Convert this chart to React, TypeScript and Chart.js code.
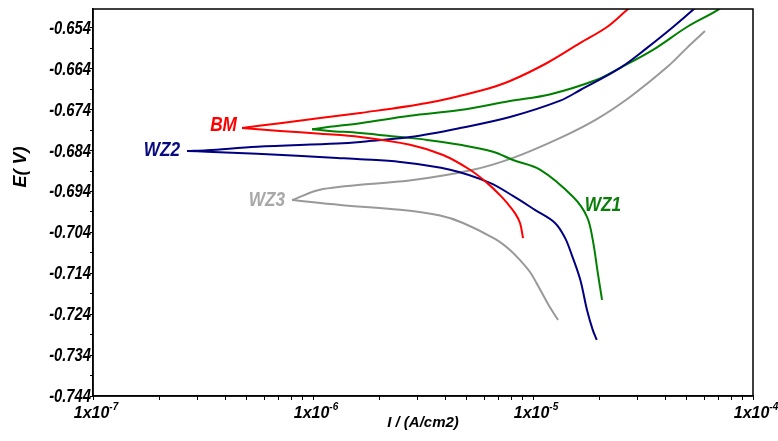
import React, { useEffect, useRef } from "react";
import { Chart, registerables } from "chart.js";

Chart.register(...registerables);

// ---- Data (current density A/cm2, potential V) ----
const bmCurrent = [9.01e-6, 8.73e-6, 8.28e-6, 7.62e-6, 7.08e-6, 6.18e-6, 5.17e-6, 3.9e-6, 2.76e-6, 1.64e-6, 1.08e-6, 7.08e-7, 4.76e-7, 7.08e-7, 1.64e-6, 3.3e-6, 5.93e-6, 7.86e-6, 1.158e-5, 1.64e-5, 2.17e-5, 2.68e-5, 2.97e-5];
const bmPotential = [-0.7054, -0.7017, -0.6993, -0.6968, -0.6949, -0.6919, -0.6887, -0.6851, -0.6826, -0.6807, -0.6799, -0.6792, -0.6785, -0.6773, -0.6748, -0.6724, -0.6692, -0.667, -0.6626, -0.6577, -0.6538, -0.6496, -0.6477];

const wz2Current = [1.95e-5, 1.87e-5, 1.76e-5, 1.64e-5, 1.5e-5, 1.4e-5, 1.259e-5, 1.02e-5, 8.11e-6, 6.37e-6, 4.2e-6, 2.49e-6, 1.64e-6, 1.29e-6, 5.57e-7, 3.3e-7, 2.68e-7, 3.3e-7, 5.57e-7, 1.29e-6, 1.64e-6, 2.76e-6, 4.66e-6, 7.86e-6, 1.33e-5, 1.64e-5, 2.49e-5, 3.3e-5, 4.33e-5, 5.34e-5, 5.74e-5];
const wz2Potential = [-0.7303, -0.7279, -0.723, -0.7156, -0.7095, -0.7054, -0.7017, -0.6985, -0.6951, -0.6919, -0.6887, -0.6868, -0.6861, -0.6858, -0.6848, -0.6843, -0.6841, -0.6839, -0.6831, -0.6823, -0.6819, -0.6807, -0.6785, -0.6758, -0.6718, -0.6692, -0.6638, -0.6589, -0.6538, -0.6496, -0.6479];

const wz1Current = [2.06e-5, 1.97e-5, 1.87e-5, 1.76e-5, 1.52e-5, 1.08e-5, 8.11e-6, 6.58e-6, 4.66e-6, 3.3e-6, 2.49e-6, 1.64e-6, 1.19e-6, 9.9e-7, 1.19e-6, 1.64e-6, 2.76e-6, 4.66e-6, 7.86e-6, 1.19e-5, 1.95e-5, 2.49e-5, 3.51e-5, 5.01e-5, 6.93e-5, 7.54e-5];
const wz1Potential = [-0.7205, -0.7139, -0.7059, -0.7002, -0.6953, -0.6887, -0.6863, -0.6843, -0.6826, -0.6814, -0.6807, -0.6797, -0.6792, -0.6788, -0.6782, -0.6773, -0.6755, -0.6741, -0.6719, -0.6703, -0.6667, -0.6638, -0.6594, -0.6538, -0.6496, -0.6479];

const wz3Current = [1.3e-5, 1.19e-5, 1.08e-5, 9.69e-6, 8.73e-6, 7.86e-6, 6.72e-6, 4.81e-6, 3.78e-6, 2.49e-6, 1.33e-6, 8.03e-7, 1.11e-6, 2.85e-6, 5.34e-6, 8.11e-6, 1.33e-5, 1.95e-5, 2.76e-5, 4.07e-5, 5.01e-5, 6.05e-5];
const wz3Potential = [-0.7254, -0.7222, -0.7181, -0.7137, -0.7108, -0.7083, -0.7056, -0.7017, -0.6999, -0.6985, -0.6973, -0.6961, -0.6934, -0.6912, -0.6887, -0.6858, -0.6809, -0.6763, -0.6709, -0.6636, -0.6589, -0.6548];

// Series names, colours and label anchors (data units)
const seriesNames = ["BM", "WZ2", "WZ1", "WZ3"];
const seriesColors = ["#ff0000", "#000080", "#008000", "#999999"];
const labelColors = ["#ff0000", "#0a0a80", "#0b7d0b", "#a8a8a8"];
const labelCurrent = [4.51e-7, 2.49e-7, 1.72e-5, 7.46e-7];
const labelPotential = [-0.6777, -0.6839, -0.6973, -0.6961];
const labelAlign = ["right", "right", "left", "right"];

// Axes
const xMin = 1e-7;
const xMax = 1e-4;
const xMajorTicks = [1e-7, 1e-6, 1e-5, 1e-4];
const xTickBase = "1x10";
const xTickExponents = ["-7", "-6", "-5", "-4"];
const yMin = -0.744;
const yMax = -0.6494;
const yMajorTicks = [-0.744, -0.734, -0.724, -0.714, -0.704, -0.694, -0.684, -0.674, -0.664, -0.654];
const xTitle = "I / (A/cm2)";
const yTitle = "E( V)";

const toPoints = (xs: number[], ys: number[]) => xs.map((x, i) => ({ x, y: ys[i] }));

const SANS = '"Liberation Sans", Arial, sans-serif';

function squishText(ctx: CanvasRenderingContext2D, text: string, x: number, y: number, align: CanvasTextAlign, sx: number) {
  ctx.save();
  ctx.translate(x, y);
  ctx.scale(sx, 1);
  ctx.textAlign = align;
  ctx.fillText(text, 0, 0);
  ctx.restore();
}

const overlayPlugin = {
  id: "overlay",
  afterDraw(chart: any) {
    const { ctx, chartArea, scales } = chart;
    const xs = scales.x;
    const ys = scales.y;
    ctx.save();
    // frame
    ctx.strokeStyle = "#000";
    ctx.lineWidth = 1.5;
    ctx.strokeRect(chartArea.left, chartArea.top, chartArea.right - chartArea.left, chartArea.bottom - chartArea.top);

    // y tick labels
    ctx.fillStyle = "#000";
    ctx.font = `italic bold 18px ${SANS}`;
    ctx.textBaseline = "middle";
    yMajorTicks.forEach((v) => {
      squishText(ctx, v.toFixed(3), chartArea.left - 2, ys.getPixelForValue(v) + 1, "right", 0.82);
    });

    // curve labels
    ctx.font = `italic bold 21px ${SANS}`;
    ctx.textBaseline = "middle";
    seriesNames.forEach((name, i) => {
      ctx.fillStyle = labelColors[i];
      squishText(ctx, name, xs.getPixelForValue(labelCurrent[i]), ys.getPixelForValue(labelPotential[i]), labelAlign[i] as CanvasTextAlign, 0.82);
    });

    // x tick labels with superscript
    ctx.fillStyle = "#000";
    ctx.textBaseline = "alphabetic";
    ctx.textAlign = "left";
    xMajorTicks.forEach((v, i) => {
      const px = xs.getPixelForValue(v);
      ctx.font = `italic bold 16px ${SANS}`;
      const wBase = ctx.measureText(xTickBase).width;
      ctx.font = `italic bold 10px ${SANS}`;
      const wExp = ctx.measureText(xTickExponents[i]).width;
      const start = px + 3 - (wBase + wExp) / 2;
      const base = chartArea.bottom + 22;
      ctx.font = `italic bold 16px ${SANS}`;
      ctx.fillText(xTickBase, start, base);
      ctx.font = `italic bold 10px ${SANS}`;
      ctx.fillText(xTickExponents[i], start + wBase, base - 8);
    });

    // axis titles
    ctx.font = `italic bold 15px ${SANS}`;
    ctx.textAlign = "center";
    ctx.textBaseline = "middle";
    ctx.fillText(xTitle, (chartArea.left + chartArea.right) / 2, chartArea.bottom + 27);

    ctx.save();
    ctx.translate(chartArea.left - 72, chartArea.top + 158);
    ctx.rotate(-Math.PI / 2);
    ctx.font = `italic bold 18px ${SANS}`;
    ctx.fillText(yTitle, 0, 0);
    ctx.restore();

    ctx.restore();
  },
};

export default function App() {
  const canvasRef = useRef<HTMLCanvasElement | null>(null);

  useEffect(() => {
    const canvas = canvasRef.current;
    if (!canvas) return;
    const curves = [
      toPoints(bmCurrent, bmPotential),
      toPoints(wz2Current, wz2Potential),
      toPoints(wz1Current, wz1Potential),
      toPoints(wz3Current, wz3Potential),
    ];
    const datasets: any[] = [];
    curves.forEach((pts, i) => {
      // split into cathodic and anodic branches at the corrosion potential (minimum current)
      let tip = 0;
      pts.forEach((p, k) => {
        if (p.x < pts[tip].x) tip = k;
      });
      const branches = [pts.slice(0, tip + 1).reverse(), pts.slice(tip)];
      branches.forEach((data) => {
        datasets.push({
          label: seriesNames[i],
          data,
          borderColor: seriesColors[i],
          backgroundColor: seriesColors[i],
          borderWidth: 2,
          pointRadius: 0,
          showLine: true,
          tension: 0.35,
          fill: false,
          clip: 0,
        });
      });
    });

    const chart = new Chart(canvas, {
      type: "scatter",
      data: { datasets },
      options: {
        animation: false,
        responsive: false,
        maintainAspectRatio: false,
        layout: { padding: { left: 0, right: 25, top: 9, bottom: 0 } },
        plugins: { legend: { display: false }, tooltip: { enabled: false } },
        scales: {
          x: {
            type: "logarithmic",
            min: xMin,
            max: xMax,
            position: "bottom",
            afterBuildTicks: (scale: any) => {
              const t: { value: number }[] = [];
              for (let e = -7; e < -4; e++) {
                for (let m = 1; m <= 9; m++) t.push({ value: m * Math.pow(10, e) });
              }
              t.push({ value: xMax });
              scale.ticks = t;
            },
            afterFit: (scale: any) => {
              scale.height = 45;
            },
            grid: { drawOnChartArea: false, drawTicks: true, tickLength: 4, color: "#000", lineWidth: 1 },
            border: { display: true, color: "#000", width: 1.5 },
            ticks: { display: true, autoSkip: false, maxRotation: 0, callback: () => "" },
          },
          y: {
            type: "linear",
            min: yMin,
            max: yMax,
            afterBuildTicks: (scale: any) => {
              const t: { value: number }[] = [];
              yMajorTicks.forEach((v, i) => {
                t.push({ value: v });
                if (i < yMajorTicks.length - 1) t.push({ value: (v + yMajorTicks[i + 1]) / 2 });
              });
              scale.ticks = t;
            },
            afterFit: (scale: any) => {
              scale.width = 93;
            },
            grid: { drawOnChartArea: false, drawTicks: true, tickLength: 3, color: "#000", lineWidth: 1 },
            border: { display: true, color: "#000", width: 1.5 },
            ticks: { autoSkip: false, padding: 0, callback: () => "" },
          },
        },
      },
      plugins: [overlayPlugin],
    } as any);

    return () => chart.destroy();
  }, []);

  return (
    <div style={{ position: "absolute", left: 0, top: 0, width: 778, height: 441, background: "#fff" }}>
      <canvas ref={canvasRef} width={778} height={441} style={{ width: 778, height: 441, display: "block" }} />
    </div>
  );
}
